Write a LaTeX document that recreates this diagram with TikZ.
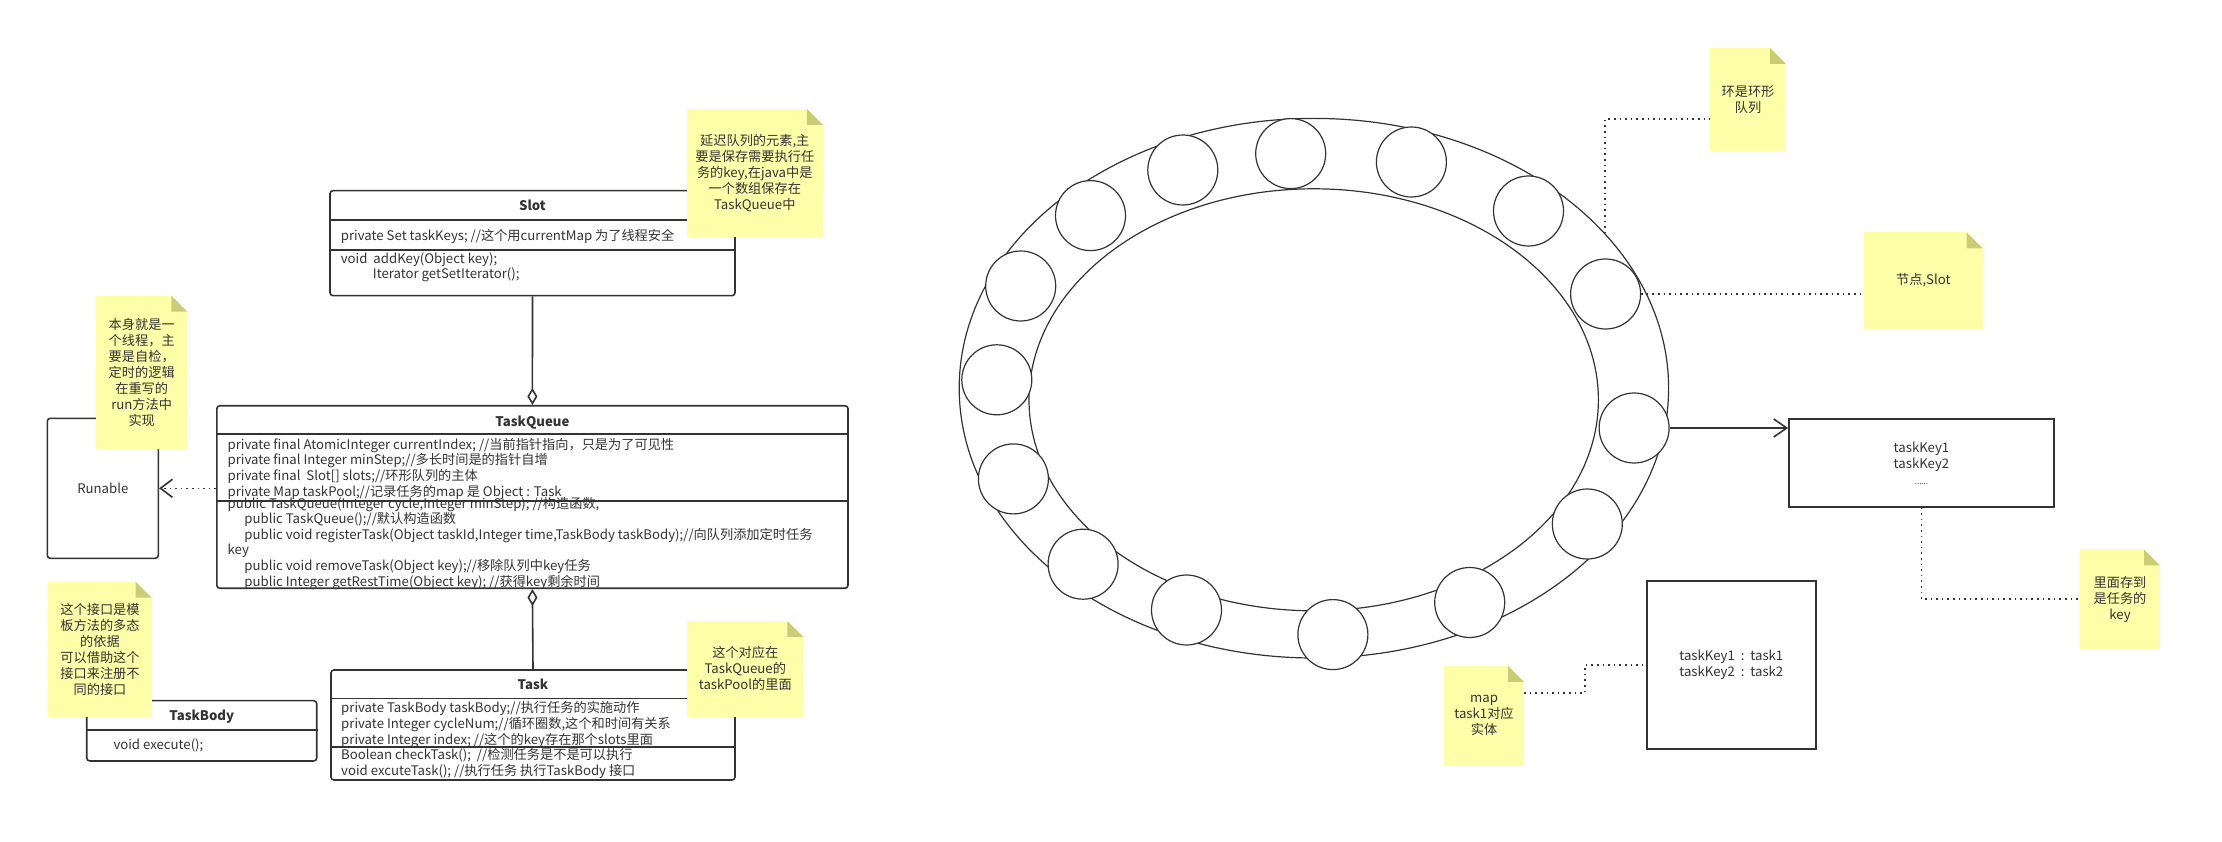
\documentclass[tikz,border=0pt]{standalone}
\usepackage{fontspec}
\setmainfont{Noto Sans CJK SC}
\usetikzlibrary{arrows.meta,shapes.geometric}

\definecolor{ink}{HTML}{333333}
\definecolor{notebg}{HTML}{FFFFAA}
\definecolor{notefold}{HTML}{CCCC77}

\newcommand\umlfont{\fontsize{13.2}{16}\selectfont}

\tikzset{
  umlbox/.style={draw=ink, line width=1.6pt, rounded corners=3pt, inner sep=0pt},
  plainbox/.style={draw=ink, line width=1.8pt, inner sep=0pt, align=center},
  divider/.style={draw=ink, line width=1.6pt},
  title/.style={anchor=base, inner sep=0pt, font=\umlfont\bfseries},
  member/.style={anchor=base west, inner sep=0pt},
  note/.style={fill=notebg, inner sep=0pt, align=center,
    path picture={
      \fill[white] (path picture bounding box.north east) -- ++(-16pt,0pt) -- ++(16pt,-16pt) -- cycle;
      \fill[notefold] (path picture bounding box.north east) ++(-16pt,0pt) -- ++(0pt,-16pt) -- ++(16pt,0pt) -- cycle;
    }},
  slotc/.style={circle, draw=ink, fill=white, line width=1.2pt, minimum size=70pt, inner sep=0pt},
  ringline/.style={ellipse, draw=ink, line width=1.2pt, inner sep=0pt},
  dotline/.style={draw=ink, line width=1.6pt, dash pattern=on 1.6pt off 4pt}
}

\begin{document}
\begin{tikzpicture}[x=1pt, y=-1pt, font=\umlfont, text=ink]

    \useasboundingbox (0,0) rectangle (2222,842);

    % class boxes
    \node[umlbox, minimum width=405pt, minimum height=105pt] (slot) at (532.5,243.2) {};
    \node[umlbox, minimum width=631.2pt, minimum height=182.5pt] (queue) at (532.4,497) {};
    \node[umlbox, minimum width=404pt, minimum height=110pt] (task) at (533,725) {};
    \node[umlbox, minimum width=230pt, minimum height=60.3pt] (body) at (201.7,730.8) {};
    \node[umlbox, minimum width=111pt, minimum height=140pt] (run) at (102.8,488.3) {Runable};

    \foreach \b/\d in {slot/30pt, slot/60pt, queue/29.2pt, queue/95.9pt, task/29.3pt, task/77.7pt, body/30.3pt} {
      \draw[divider] ([yshift=-\d]\b.north west) -- ([yshift=-\d]\b.north east);
    }

    \node[title] (slot-t) at (532.5,210.7) {Slot};
    \node[title] (queue-t) at (532.4,426) {TaskQueue};
    \node[title] (task-t) at (533,689.3) {Task};
    \node[title] (body-t) at (201.7,720) {TaskBody};

    % Slot
    \node[member] (slot-a1) at (340.7,240.7) {private Set taskKeys; //这个用currentMap 为了线程安全};
    \node[member] (slot-m1) at (340.7,264) {void~~addKey(Object key);};
    \node[member] (slot-m2) at (372.7,279) {Iterator getSetIterator();};

    % TaskQueue
    \foreach \txt [count=\i] in {
        {private final AtomicInteger currentIndex; //当前指针指向，只是为了可见性},
        {private final Integer minStep;//多长时间是的指针自增},
        {private final~~Slot[] slots;//环形队列的主体},
        {private Map taskPool;//记录任务的map 是 Object : Task}} {
      \node[member] (queue-a\i) at (227.4, {449.3+15.6*(\i-1)}) {\txt};
    }
    \node[member] (queue-m1) at (227.4,508) {public TaskQueue(Integer cycle,Integer minStep); //构造函数,};
    \node[member] (queue-m2) at (244.2,523.6) {public TaskQueue();//默认构造函数};
    \node[member] (queue-m3) at (244.2,539.2) {public void registerTask(Object taskId,Integer time,TaskBody taskBody);//向队列添加定时任务};
    \node[member] (queue-m4) at (227.4,554.8) {key};
    \node[member] (queue-m5) at (244.2,570.4) {public void removeTask(Object key);//移除队列中key任务};
    \node[member] (queue-m6) at (244.2,586) {public Integer getRestTime(Object key); //获得key剩余时间};

    % Task
    \foreach \txt [count=\i] in {
        {private TaskBody taskBody;//执行任务的实施动作},
        {private Integer cycleNum;//循环圈数,这个和时间有关系},
        {private Integer index; //这个的key存在那个slots里面},
        {Boolean checkTask();~~//检测任务是不是可以执行},
        {void excuteTask(); //执行任务 执行TaskBody 接口}} {
      \node[member] (task-l\i) at (341, {712.7+15.7*(\i-1)}) {\txt};
    }

    \node[member] (body-m1) at (113.3,749.3) {void execute();};

    % notes
    \node[note, minimum width=136.3pt, minimum height=127.7pt] (n-slot) at (754.8,172.8) {延迟队列的元素,主\\要是保存需要执行任\\务的key,在java中是\\一个数组保存在\\TaskQueue中};
    \node[note, minimum width=91.3pt, minimum height=153.6pt] (n-run) at (141.7,372.5) {本身就是一\\个线程，主\\要是自检，\\定时的逻辑\\在重写的\\run方法中\\实现};
    \node[note, minimum width=103.4pt, minimum height=135pt] (n-body) at (100,649.2) {这个接口是模\\板方法的多态\\的依据\\可以借助这个\\接口来注册不\\同的接口};
    \node[note, minimum width=116pt, minimum height=95.7pt] (n-task) at (745.3,668.8) {这个对应在\\TaskQueue的\\taskPool的里面};

    \draw[ink, line width=1.6pt, -{Diamond[open, length=17pt, width=10pt]}] (slot.south) -- (queue.north);
    \draw[ink, line width=1.6pt, {Diamond[open, length=17pt, width=10pt]}-] (queue.south) -- (task.north);
    \draw[dotline, -{Straight Barb[length=12pt, width=18pt]}] (queue.west |- run.east) -- (run.east);

    % ring
    \node[ringline, minimum width=709.4pt, minimum height=539.6pt] (ring) at (1313.9,388.2) {};
    \node[ringline, minimum width=569.4pt, minimum height=422pt] (hole) at (1313.7,399.8) {};
    \foreach \x/\y [count=\i] in {1182.8/170, 1290.7/153.6, 1411.4/162, 1528.5/211, 1605.6/294,
        1634.1/428, 1587.3/524, 1469.7/602.5, 1332.9/634.6, 1186.5/610,
        1083.1/564.2, 1013.4/478.9, 996.8/379.8, 1020.7/286, 1090.5/215.6} {
      \node[slotc] (c\i) at (\x,\y) {};
    }

    \node[plainbox, minimum width=265pt, minimum height=87.7pt] (keys) at (1921.5,462.8) {taskKey1\\taskKey2\\{\fontsize{8}{8}\selectfont ......}};
    \node[plainbox, minimum width=169.3pt, minimum height=168.3pt] (map) at (1731.3,664.8) {taskKey1~~:~~task1\\taskKey2~~:~~task2};

    \node[note, minimum width=76pt, minimum height=103pt] (n-ring) at (1748,99.5) {环是环形\\队列};
    \node[note, minimum width=118.7pt, minimum height=96.4pt] (n-node) at (1923.3,280.5) {节点,Slot};
    \node[note, minimum width=80pt, minimum height=99.7pt] (n-keys) at (2120,599.2) {里面存到\\是任务的\\key};
    \node[note, minimum width=80pt, minimum height=99.7pt] (n-map) at (1484,715.8) {map\\task1对应\\实体};

    \draw[ink, line width=1.6pt, -{Straight Barb[length=13pt, width=18pt]}] (c6.east) -- (c6.east -| keys.west);
    \draw[dotline] (ring.28) |- ([yshift=-19.5pt]n-ring.west);
    \draw[dotline] (c5.east) -- (c5.east -| n-node.west);
    \draw[dotline] (keys.south) |- (n-keys.west);
    \draw[dotline] ([yshift=23pt]n-map.east) -- ++(61,0) |- (map.west);

\end{tikzpicture}
\end{document}
